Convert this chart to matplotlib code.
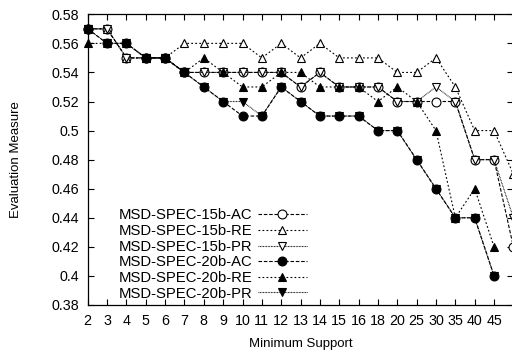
import matplotlib
matplotlib.use("Agg")
import matplotlib.pyplot as plt

plt.rcParams['font.family'] = ['Liberation Sans', 'DejaVu Sans']

categories = ['2', '3', '4', '5', '6', '7', '8', '9', '10', '11', '12', '13',
              '14', '15', '16', '18', '20', '25', '30', '35', '40', '45']
extra_category = '50'  # last point of the 15b series, at the clipped right edge

s15_ac = [0.57, 0.57, 0.55, 0.55, 0.55, 0.54, 0.54, 0.54, 0.54, 0.54, 0.54, 0.53,
          0.54, 0.53, 0.53, 0.53, 0.52, 0.52, 0.52, 0.52, 0.48, 0.48, 0.42]
s15_re = [0.57, 0.57, 0.55, 0.55, 0.55, 0.56, 0.56, 0.56, 0.56, 0.55, 0.56, 0.55,
          0.56, 0.55, 0.55, 0.55, 0.54, 0.54, 0.55, 0.53, 0.50, 0.50, 0.47]
s15_pr = [0.57, 0.57, 0.55, 0.55, 0.55, 0.54, 0.54, 0.54, 0.54, 0.54, 0.54, 0.53,
          0.54, 0.53, 0.53, 0.53, 0.52, 0.52, 0.53, 0.52, 0.48, 0.48, 0.44]
s20_ac = [0.57, 0.56, 0.56, 0.55, 0.55, 0.54, 0.53, 0.52, 0.51, 0.51, 0.53, 0.52,
          0.51, 0.51, 0.51, 0.50, 0.50, 0.48, 0.46, 0.44, 0.44, 0.40]
s20_re = [0.56, 0.56, 0.56, 0.55, 0.55, 0.54, 0.55, 0.54, 0.53, 0.53, 0.54, 0.54,
          0.53, 0.53, 0.53, 0.52, 0.53, 0.52, 0.50, 0.44, 0.46, 0.42]
s20_pr = [0.57, 0.56, 0.56, 0.55, 0.55, 0.54, 0.53, 0.52, 0.52, 0.51, 0.53, 0.52,
          0.51, 0.51, 0.51, 0.50, 0.50, 0.48, 0.46, 0.44, 0.44, 0.40]

series = [
    ('MSD-SPEC-15b-AC', s15_ac, 'o', 'white', (0, (3.2, 1.6))),
    ('MSD-SPEC-15b-RE', s15_re, '^', 'white', (0, (1.6, 2.0))),
    ('MSD-SPEC-15b-PR', s15_pr, 'v', 'white', (0, (0.7, 0.7))),
    ('MSD-SPEC-20b-AC', s20_ac, 'o', 'black', (0, (3.2, 1.6))),
    ('MSD-SPEC-20b-RE', s20_re, '^', 'black', (0, (1.6, 2.0))),
    ('MSD-SPEC-20b-PR', s20_pr, 'v', 'black', (0, (0.7, 0.7))),
]

W, H = 512, 354
fig = plt.figure(figsize=(W / 100, H / 100), dpi=100)
left_px, right_px, top_px, bottom_px = 87.7, 513.4, 14.3, 305.0
ax = fig.add_axes([left_px / W, 1 - bottom_px / H,
                   (right_px - left_px) / W, (bottom_px - top_px) / H])

for label, vals, mk, fc, ls in series:
    xs = list(range(len(vals)))
    ax.plot(xs, vals, linestyle=ls, color='black', linewidth=0.8,
            marker=mk, markersize=6.4, markerfacecolor=fc,
            markeredgecolor='black', markeredgewidth=0.8, label=label,
            clip_on=False)

ax.set_xlim(0, len(categories))
ax.set_ylim(0.38, 0.58)
ax.set_xticks(range(len(categories)))
ax.set_xticklabels(categories)
yt = [0.38, 0.40, 0.42, 0.44, 0.46, 0.48, 0.50, 0.52, 0.54, 0.56, 0.58]
ax.set_yticks(yt)
ax.set_yticklabels(['0.38', '0.4', '0.42', '0.44', '0.46', '0.48', '0.5',
                    '0.52', '0.54', '0.56', '0.58'])
ax.tick_params(direction='in', length=4, width=0.8, top=True, right=True,
               labelsize=10.3, pad=6.5)
ax.tick_params(axis='x', pad=6.5)
for sp in ax.spines.values():
    sp.set_linewidth(0.9)

ax.set_xlabel('Minimum Support', fontsize=9.5, labelpad=7)
ax.set_ylabel('Evaluation Measure', fontsize=9.5, labelpad=21)

leg = ax.legend(loc='lower right', bbox_to_anchor=(0.515, 0.015),
                frameon=False, markerfirst=False, fontsize=10.7,
                handlelength=3.3, handletextpad=0.35, labelspacing=0.11,
                borderpad=0.0, borderaxespad=0.0)

fig.savefig('out.png', dpi=100)
